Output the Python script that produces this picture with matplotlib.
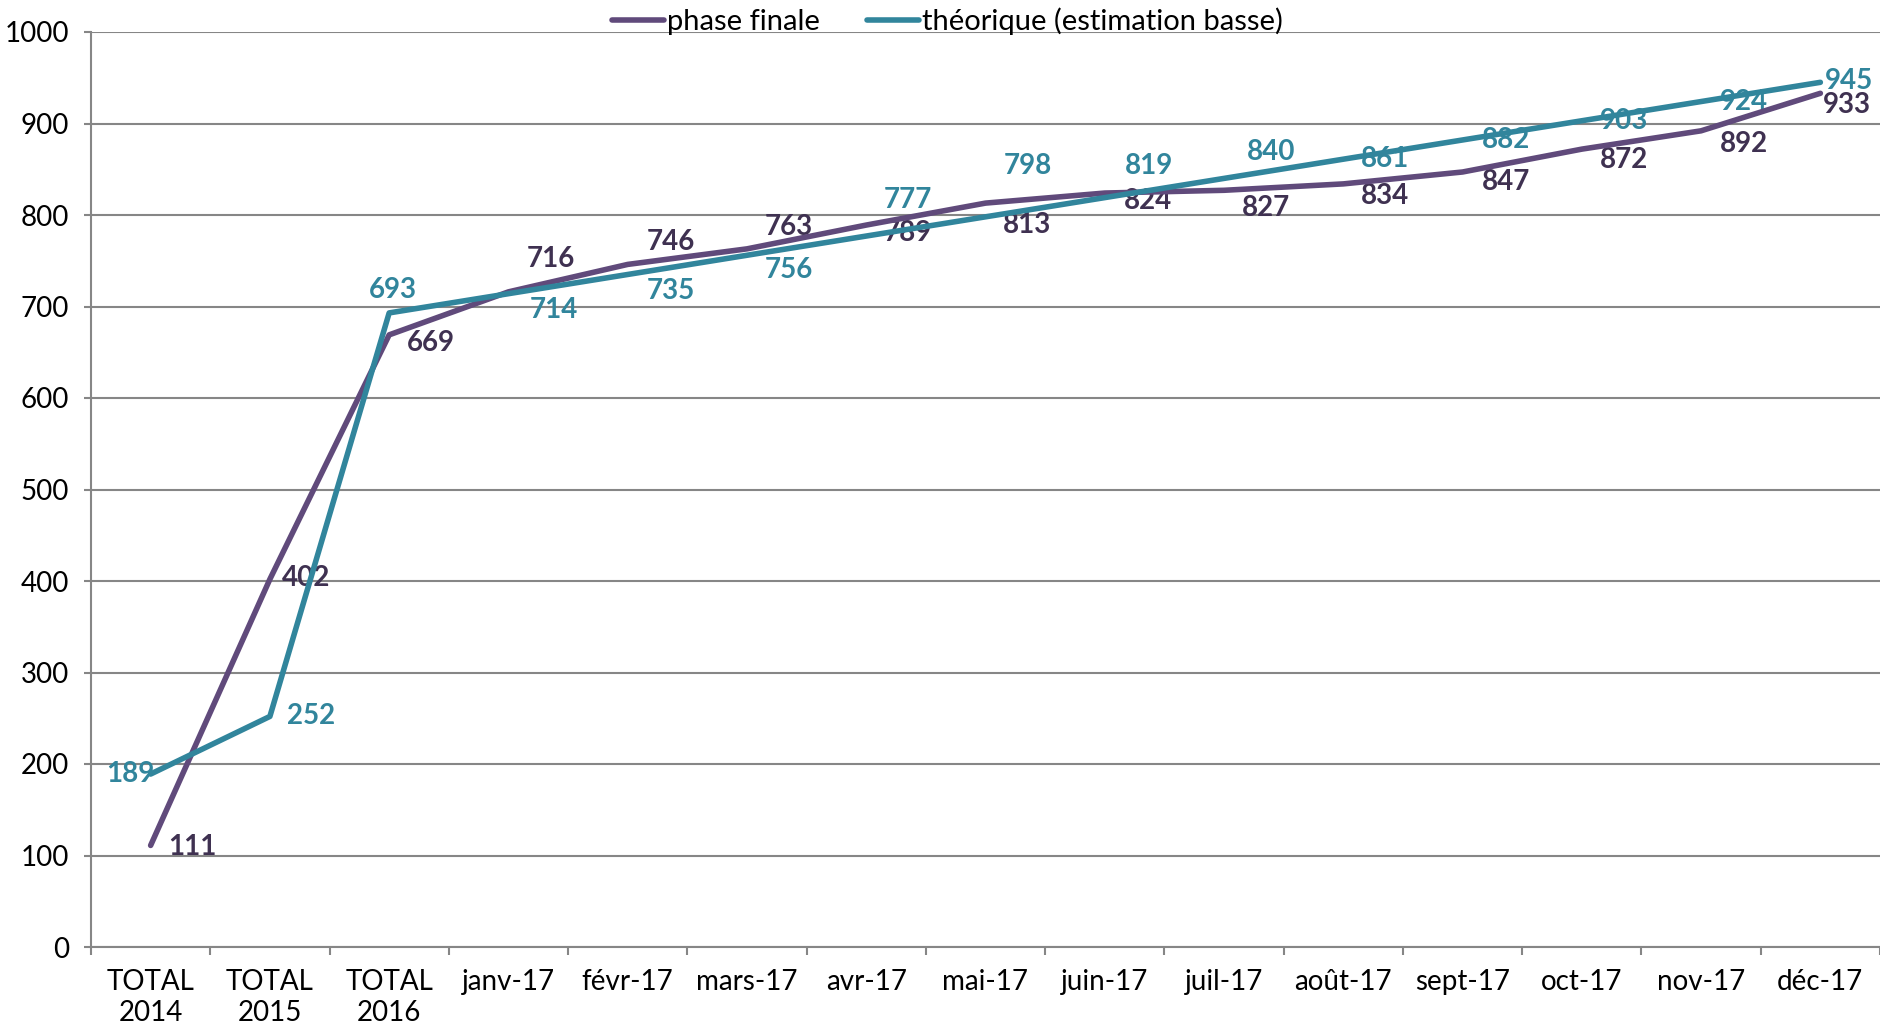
import numpy as np
import matplotlib
matplotlib.use("Agg")
import matplotlib.pyplot as plt
from matplotlib.ticker import FixedLocator

plt.rcParams['font.family'] = ['Lato', 'DejaVu Sans']

# categories and series
categories = ["TOTAL\n2014", "TOTAL\n2015", "TOTAL\n2016", "janv-17", "févr-17",
              "mars-17", "avr-17", "mai-17", "juin-17", "juil-17", "août-17",
              "sept-17", "oct-17", "nov-17", "déc-17"]
phase_finale = [111, 402, 669, 716, 746, 763, 789, 813, 824, 827, 834, 847, 872, 892, 933]
theorique = [189, 252, 693, 714, 735, 756, 777, 798, 819, 840, 861, 882, 903, 924, 945]

# label offsets (points) - layout only
pf_dx = [35, 30, 35, 35, 36, 35, 35, 35, 36, 35, 35, 36, 35, 36, 22]
pf_dy = [-1, 1, -7, 27, 19, 18, -7, -18, -7, -15, -10, -8, -9, -11, -10]
th_dx = [-17, 34, 3, 38, 36, 35, 35, 35, 37, 39, 35, 36, 35, 36, 24]
th_dy = [0, 0, 19, -14, -14, -12, 30, 42, 26, 22, 0, 0, 0, 0, 1]

purple = "#604A7B"
purple_dark = "#3F3151"
teal = "#31859C"
grey = "#868686"

fig = plt.figure(figsize=(18.8, 10.26), dpi=100)
ax = fig.add_axes([91 / 1880, 1 - 947 / 1026, (1880 - 91) / 1880, (947 - 32) / 1026])

x = np.arange(len(categories))
l1, = ax.plot(x, phase_finale, color=purple, lw=4, solid_capstyle="round",
              solid_joinstyle="round", zorder=3, label="phase finale")
l2, = ax.plot(x, theorique, color=teal, lw=4, solid_capstyle="round",
              solid_joinstyle="round", zorder=3, label="théorique (estimation basse)")

k = 0.863  # shrunk px -> points
for i in range(len(x)):
    ax.annotate(str(phase_finale[i]), (x[i], phase_finale[i]),
                xytext=(pf_dx[i] * k, pf_dy[i] * k), textcoords="offset points",
                ha="center", va="center", fontsize=20, fontweight="bold",
                color=purple_dark, zorder=2)
    ax.annotate(str(theorique[i]), (x[i], theorique[i]),
                xytext=(th_dx[i] * k, th_dy[i] * k), textcoords="offset points",
                ha="center", va="center", fontsize=20, fontweight="bold",
                color=teal, zorder=2)

ax.set_xlim(-0.5, len(categories) - 0.5)
ax.set_ylim(0, 1000)
ax.set_yticks(np.arange(0, 1001, 100))
ax.set_xticks(x)
ax.set_xticklabels(categories)
ax.xaxis.set_minor_locator(FixedLocator(np.arange(-0.5, len(categories), 1)))

ax.grid(axis="y", color=grey, lw=1.5, zorder=0)
ax.set_axisbelow(True)
for s in ["top", "right"]:
    ax.spines[s].set_visible(False)
for s in ["left", "bottom"]:
    ax.spines[s].set_color(grey)
    ax.spines[s].set_linewidth(1.5)

ax.tick_params(axis="y", length=5, width=1.5, color=grey, pad=11, labelsize=20)
ax.tick_params(axis="x", which="major", length=0, pad=16, labelsize=20)
ax.tick_params(axis="x", which="minor", length=6, width=1.5, color=grey)
for t in ax.get_xticklabels():
    t.set_linespacing(1.25)

fig.legend(handles=[l1, l2], loc="center", bbox_to_anchor=(0.504, 0.979),
           ncol=2, frameon=False, fontsize=21, handlelength=1.8,
           handletextpad=0.1, columnspacing=1.6, borderpad=0)

fig.savefig("out.png", dpi=100)
